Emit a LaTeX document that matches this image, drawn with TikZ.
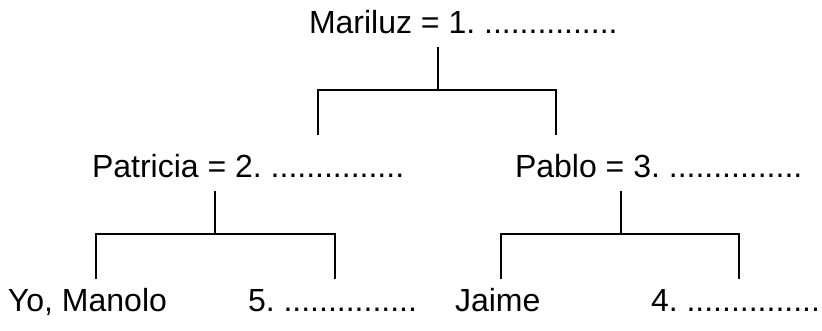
\documentclass[tikz,border=0pt]{standalone}
\usepackage{fontspec}
\setmainfont{Liberation Sans}
\frenchspacing
\begin{document}
\begin{tikzpicture}[x=1pt,y=-1pt,
  lbl/.style={inner sep=0pt,outer sep=0pt,anchor=base west,font=\fontsize{32}{38}\selectfont\frenchspacing},
  link/.style={line width=2.3pt,line cap=butt,line join=miter}]
\useasboundingbox (0,0) rectangle (822,330);
% text nodes
\node[lbl] (mariluz) at (309,33) {Mariluz = 1. ...............};
\node[lbl] (patricia) at (92,177) {Patricia = 2. ...............};
\node[lbl] (pablo) at (515,177) {Pablo = 3. ...............};
\node[lbl] (yo) at (8,311) {Yo, Manolo};
\node[lbl] (cinco) at (248,311) {5. ...............};
\node[lbl] (jaime) at (455,311) {Jaime};
\node[lbl] (cuatro) at (651,311) {4. ...............};
% junction coordinates
\coordinate (t0) at (438,47);
\coordinate (t1) at (438,90);
\coordinate (tl) at (318,90);
\coordinate (tr) at (556,90);
\coordinate (tlb) at (318,135);
\coordinate (trb) at (556,135);
\coordinate (l0) at (215,191);
\coordinate (l1) at (215,234);
\coordinate (ll) at (96,234);
\coordinate (lr) at (335,234);
\coordinate (llb) at (96,279);
\coordinate (lrb) at (335,279);
\coordinate (r0) at (621,191);
\coordinate (r1) at (621,234);
\coordinate (rl) at (501,234);
\coordinate (rr) at (739,234);
\coordinate (rlb) at (501,279);
\coordinate (rrb) at (739,279);
% connectors
\draw[link] (t0) -- (t1);
\draw[link] (tlb) -- (tl) -- (tr) -- (trb);
\draw[link] (l0) -- (l1);
\draw[link] (llb) -- (ll) -- (lr) -- (lrb);
\draw[link] (r0) -- (r1);
\draw[link] (rlb) -- (rl) -- (rr) -- (rrb);
\end{tikzpicture}
\end{document}
